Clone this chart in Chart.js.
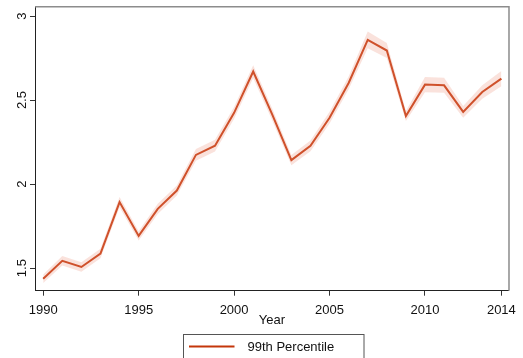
<!DOCTYPE html>
<html>
<head>
<meta charset="utf-8">
<script src="https://cdn.jsdelivr.net/npm/chart.js@4.4.1/dist/chart.umd.min.js"></script>
<style>
  html, body { margin: 0; padding: 0; background: #fff; }
  #wrap { width: 523px; height: 358px; }
</style>
</head>
<body>
<div id="wrap"><canvas id="c" width="523" height="358"></canvas></div>
<script>
// Years on the horizontal axis
const years = [1990, 1991, 1992, 1993, 1994, 1995, 1996, 1997, 1998, 1999,
               2000, 2001, 2002, 2003, 2004, 2005, 2006, 2007, 2008, 2009,
               2010, 2011, 2012, 2013, 2014];
// 99th percentile estimate
const p99 = [1.437, 1.544, 1.507, 1.587, 1.893, 1.692, 1.853, 1.962, 2.174, 2.229,
             2.424, 2.670, 2.414, 2.143, 2.228, 2.395, 2.602, 2.858, 2.795, 2.405,
             2.592, 2.588, 2.430, 2.548, 2.628];
// Confidence band around the estimate
const lower = [1.412, 1.516, 1.479, 1.559, 1.863, 1.664, 1.823, 1.932, 2.139, 2.194,
               2.389, 2.632, 2.379, 2.113, 2.196, 2.360, 2.564, 2.808, 2.750, 2.375,
               2.547, 2.543, 2.395, 2.508, 2.583];
const upper = [1.462, 1.572, 1.535, 1.615, 1.923, 1.720, 1.883, 1.992, 2.209, 2.264,
               2.459, 2.708, 2.449, 2.173, 2.260, 2.430, 2.640, 2.908, 2.840, 2.435,
               2.637, 2.633, 2.465, 2.588, 2.673];
const xTicks = [1990, 1995, 2000, 2005, 2010, 2014];
const yTicks = [1.5, 2, 2.5, 3];
const seriesLabel = '99th Percentile';

const FONT = 'Liberation Sans, Arial, sans-serif';
const lineColor = '#c4360a';
const bandColor = 'rgba(236, 150, 128, 0.28)';

const pts = arr => years.map((y, i) => ({ x: y, y: arr[i] }));

// Frame around the plot region plus the boxed legend below the axis title
const framePlugin = {
  id: 'frame',
  afterDraw(chart) {
    const { ctx, chartArea: a } = chart;
    ctx.save();
    ctx.strokeStyle = '#8c8c8c';
    ctx.lineWidth = 1.5;
    ctx.beginPath();
    ctx.moveTo(a.left, a.top);
    ctx.lineTo(a.right, a.top);
    ctx.lineTo(a.right, a.bottom);
    ctx.stroke();

    // legend box
    const bx = 183.5, by = 334.5, bw = 180.5, bh = 30;
    ctx.strokeStyle = '#555';
    ctx.lineWidth = 1;
    ctx.strokeRect(bx, by, bw, bh);
    ctx.strokeStyle = lineColor;
    ctx.lineWidth = 2;
    ctx.beginPath();
    ctx.moveTo(189, 346.5);
    ctx.lineTo(234.5, 346.5);
    ctx.stroke();
    ctx.fillStyle = '#111';
    ctx.font = '13px ' + FONT;
    ctx.textBaseline = 'middle';
    ctx.textAlign = 'left';
    ctx.fillText(seriesLabel, 247.5, 347);
    ctx.restore();
  }
};

new Chart(document.getElementById('c'), {
  type: 'line',
  data: {
    datasets: [
      { data: pts(upper), borderWidth: 0, pointRadius: 0, fill: '+1',
        backgroundColor: bandColor, borderColor: 'rgba(0,0,0,0)', tension: 0 },
      { data: pts(lower), borderWidth: 0, pointRadius: 0, fill: false,
        borderColor: 'rgba(0,0,0,0)', tension: 0 },
      { label: seriesLabel, data: pts(p99), borderColor: lineColor, borderWidth: 2,
        pointRadius: 0, fill: false, tension: 0, borderJoinStyle: 'miter' }
    ]
  },
  options: {
    responsive: false,
    animation: false,
    events: [],
    layout: { padding: { left: 0, right: 11.3, top: 5, bottom: 30 } },
    plugins: { legend: { display: false }, tooltip: { enabled: false } },
    scales: {
      x: {
        type: 'linear',
        min: 1989.57,
        max: 2014.4,
        afterBuildTicks: s => { s.ticks = xTicks.map(v => ({ value: v })); },
        afterFit: s => { s.height = 37.3; },
        grid: { drawOnChartArea: false, drawTicks: true, tickLength: 5, color: '#333' },
        border: { display: true, color: '#222', width: 1 },
        ticks: { color: '#111', font: { family: FONT, size: 13 }, padding: 7,
                 maxRotation: 0, autoSkip: false, callback: v => String(v) },
        title: { display: true, text: 'Year', color: '#111',
                 font: { family: FONT, size: 13 }, padding: { top: 0, bottom: 0 } }
      },
      y: {
        type: 'linear',
        min: 1.366,
        max: 3.055,
        afterBuildTicks: s => { s.ticks = yTicks.map(v => ({ value: v })); },
        afterFit: s => { s.width = 35; },
        grid: { drawOnChartArea: false, drawTicks: true, tickLength: 5, color: '#333' },
        border: { display: true, color: '#222', width: 1 },
        ticks: { color: '#111', font: { family: FONT, size: 13 }, padding: -1,
                 minRotation: 90, maxRotation: 90, crossAlign: 'center',
                 autoSkip: false, callback: v => String(v) }
      }
    }
  },
  plugins: [framePlugin]
});
</script>
</body>
</html>
